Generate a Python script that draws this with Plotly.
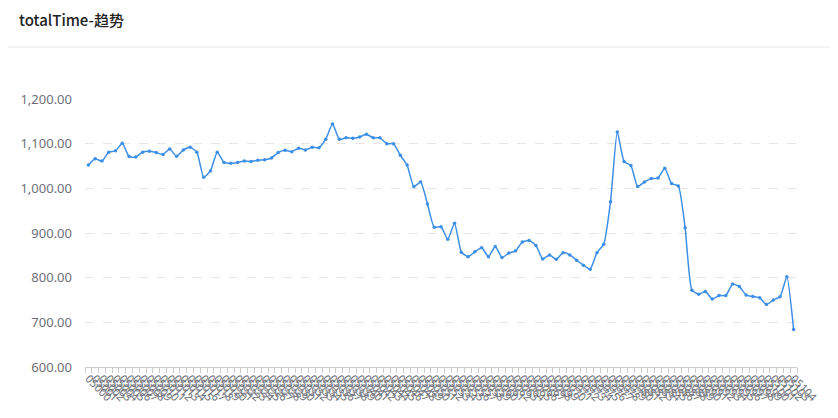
import plotly.graph_objects as go

# totalTime values, one per category
total_time = [
    1052, 1066, 1061, 1081, 1084, 1101, 1071, 1070, 1081, 1083,
    1080, 1076, 1088, 1072, 1086, 1092, 1081, 1025, 1039, 1081,
    1058, 1056, 1058, 1061, 1060, 1063, 1064, 1068, 1080, 1085,
    1082, 1090, 1086, 1092, 1091, 1110, 1144, 1110, 1113, 1112,
    1115, 1121, 1113, 1113, 1100, 1100, 1074, 1052, 1004, 1014,
    965, 913, 914, 886, 922, 857, 847, 858, 867, 847,
    870, 845, 855, 860, 880, 883, 872, 842, 851, 841,
    856, 851, 839, 828, 819, 856, 875, 970, 1126, 1060,
    1051, 1004, 1014, 1022, 1023, 1045, 1011, 1005, 912, 772,
    763, 769, 752, 760, 760, 786, 780, 761, 758, 755,
    740, 750, 757, 802, 684,
]
x_labels = [f"05{i:03d}" for i in range(len(total_time))]
y_ticks = [600, 700, 800, 900, 1000, 1100, 1200]

LINE = "#3d8fe6"
GREY = "#6e7079"

# the page body adds an 8px offset, so the figure is drawn 8px smaller
W, H = 830, 410
L, R, T, B = 77, 41, 91, 51
PW, PH = W - L - R, H - T - B

fig = go.Figure()
fig.add_trace(go.Scatter(
    x=x_labels,
    y=total_time,
    mode="lines+markers",
    line=dict(color=LINE, width=1.5, shape="spline", smoothing=0.5),
    marker=dict(color=LINE, size=3.5),
    hovertemplate="%{x}<br>%{y:,.2f}<extra></extra>",
))

fig.update_layout(
    width=W,
    height=H,
    template="plotly_white",
    showlegend=False,
    margin=dict(l=L, r=R, t=T, b=B),
    font=dict(family="Noto Sans, Noto Sans CJK SC, sans-serif", size=12, color=GREY),
    title=dict(
        text="totalTime-趋势",
        x=11 / W, xanchor="left", xref="container",
        y=1 - 13 / H, yanchor="middle", yref="container",
        font=dict(size=15, color="#222222", family="Noto Sans CJK SC, Noto Sans, sans-serif", weight=500),
    ),
    plot_bgcolor="white",
    paper_bgcolor="white",
)

# header separator line
fig.add_shape(
    type="line", xref="paper", yref="paper",
    x0=-L / PW, x1=(W - L) / PW, y0=(H - B - 39) / PH, y1=(H - B - 39) / PH,
    line=dict(color="#e8e8e8", width=1),
)

fig.update_xaxes(
    type="category",
    range=[-0.5, len(total_time) - 0.5],
    dtick=1,
    tickangle=45,
    tickfont=dict(size=11, color=GREY),
    showgrid=False,
    showline=True,
    linecolor="#cccccc",
    ticks="outside",
    ticklen=5,
    tickcolor="#cccccc",
    tickson="boundaries",
    automargin=False,
    zeroline=False,
)
fig.update_yaxes(
    range=[600, 1200],
    tickvals=y_ticks,
    tickformat=",.2f",
    tickfont=dict(size=13, color=GREY),
    showgrid=True,
    gridcolor="#e6e6e6",
    griddash="dash",
    zeroline=False,
    showline=False,
    ticks="",
    ticklabelstandoff=12,
    automargin=False,
)

fig.write_html("out.html")
